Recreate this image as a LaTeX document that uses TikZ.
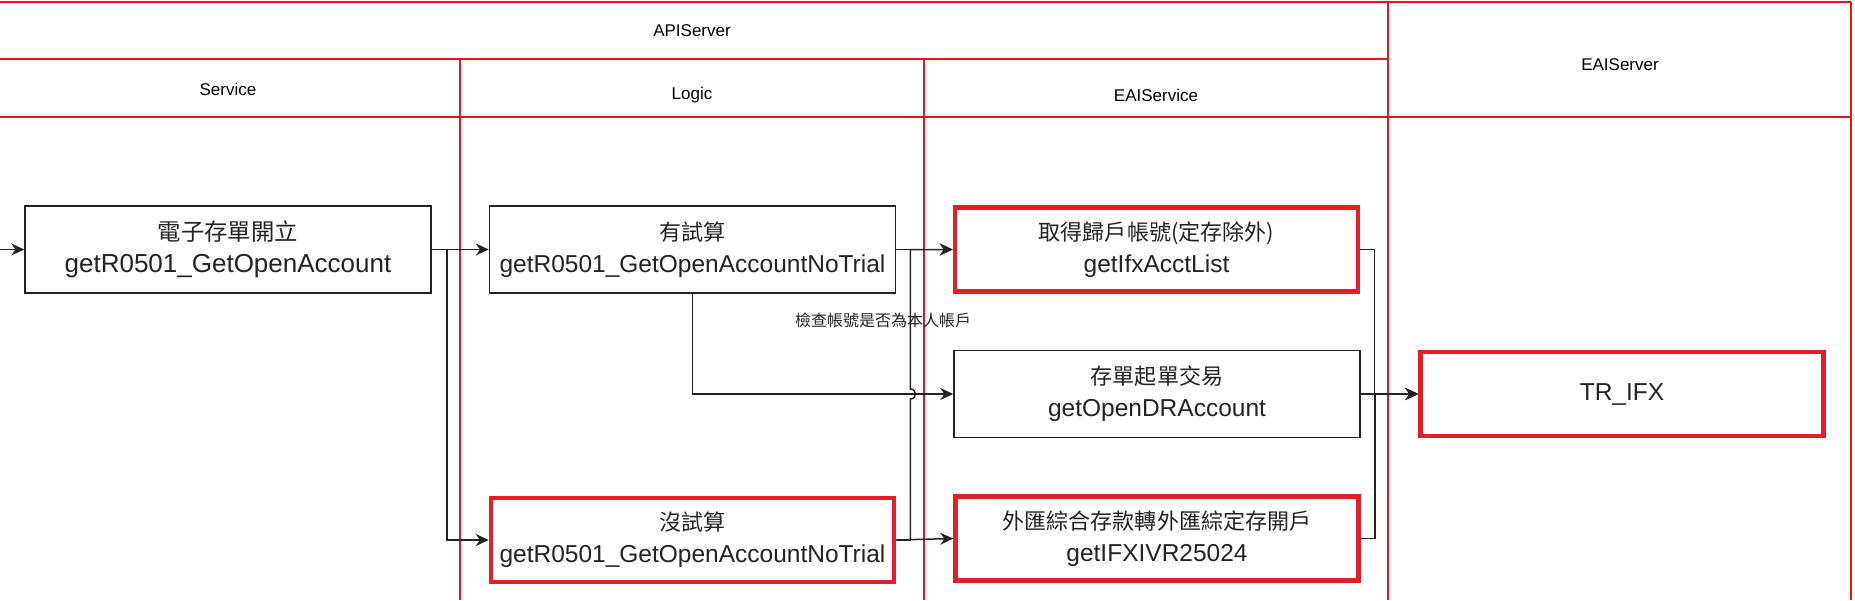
\documentclass[tikz,border=0pt]{standalone}
\usepackage{fontspec}
\setmainfont{Liberation Sans}
\newfontfamily\cjk[Scale=0.9]{Noto Sans CJK TC}
\newfontfamily\cjkl{Noto Sans CJK TC}
\usetikzlibrary{arrows.meta,calc}
\definecolor{lanered}{RGB}{230,20,30}
\definecolor{boxred}{RGB}{228,30,38}
\definecolor{ink}{RGB}{35,35,35}
\begin{document}
\begin{tikzpicture}[x=1pt,y=-1pt,
  lane/.style={draw=lanered, line width=1.3pt},
  hdr/.style={font=\fontsize{17}{20}\selectfont, text=black},
  stepbox/.style={draw=ink, line width=1.5pt, minimum width=406pt, minimum height=87pt,
    align=center, inner sep=0pt, text=ink, font=\fontsize{24.5}{32}\selectfont},
  redbox/.style={stepbox, draw=boxred, line width=4.5pt, minimum width=403pt, minimum height=84pt},
  conn/.style={draw=ink, line width=1.5pt},
  arr/.style={conn, -{Stealth[length=13pt,width=12pt]}},
  lbl/.style={font=\cjkl\fontsize{16}{18}\selectfont, text=ink}
]
\useasboundingbox (0,0) rectangle (1855,600);
\fill[white] (0,0) rectangle (1855,600);

% lanes
\draw[lane] (0,2) -- (1851,2);
\draw[lane] (0,59) -- (1388,59);
\draw[lane] (0,117) -- (1851,117);
\draw[lane] (460,59) -- (460,600);
\draw[lane] (924,59) -- (924,600);
\draw[lane] (1388,2) -- (1388,600);
\draw[lane] (1851,2) -- (1851,600);

\node[hdr] (hapi) at (692,31) {APIServer};
\node[hdr] (heai) at (1620,65) {EAIServer};
\node[hdr] (hsvc) at (228,89) {Service};
\node[hdr] (hlog) at (692,95) {Logic};
\node[hdr] (heais) at (1156,95) {EAIService};

% boxes
\node[stepbox, font=\fontsize{26}{32}\selectfont] (b1) at (228,249.5) {{\cjk 電子存單開立}\\getR0501\_GetOpenAccount};
\node[stepbox] (b2) at (692.5,249.5) {{\cjk 有試算}\\getR0501\_GetOpenAccountNoTrial};
\node[redbox] (b3) at (692.5,540) {{\cjk 沒試算}\\getR0501\_GetOpenAccountNoTrial};
\node[redbox] (b4) at (1156.5,249.5) {{\cjk 取得歸戶帳號(定存除外)}\\getIfxAcctList};
\node[stepbox] (b5) at (1157,394) {{\cjk 存單起單交易}\\getOpenDRAccount};
\node[redbox] (b6) at (1157,538.5) {{\cjk 外匯綜合存款轉外匯綜定存開戶}\\getIFXIVR25024};
\node[redbox] (b7) at (1622,394) {TR\_IFX};

\coordinate (in) at (0,249.5);

% connectors
\draw[arr] (in) -- (b1.west);
\draw[arr] (b1.east) -- (b2.west);
\draw[arr] (b1.east) -- ++(15,0) |- (b3.west);
\draw[arr] (b2.east) -- (b4.west);
\draw[arr] (b2.south) |- (b5.west);
\draw[arr] (b3.east) -- (b6.west);
\draw[arr] (b3.east) -- ++(14,0) coordinate (c1)
  -- ($(c1 |- b5.west)+(0,5)$) .. controls +(7,0) and +(7,0) .. ($(c1 |- b5.west)+(0,-5)$)
  |- (b4.west);
\node[lbl] (chk) at (883,320) {檢查帳號是否為本人帳戶};
\draw[arr] (b4.east) -- ++(14,0) |- (b7.west);
\draw[arr] (b6.east) -- ++(14,0) |- (b7.west);
\draw[arr] (b5.east) -- (b7.west);
\end{tikzpicture}
\end{document}
